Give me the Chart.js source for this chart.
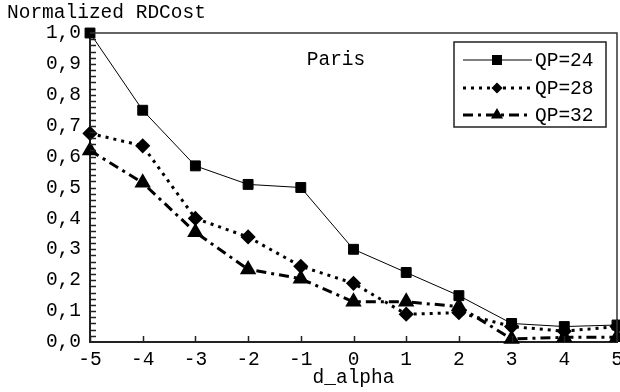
<!DOCTYPE html>
<html>
<head>
<meta charset="utf-8">
<script src="https://cdn.jsdelivr.net/npm/chart.js@4.4.1/dist/chart.umd.min.js"></script>
<style>
  html, body { margin: 0; padding: 0; background: #fff; }
  #wrap { width: 620px; height: 392px; }
</style>
</head>
<body>
<div id="wrap"><canvas id="chart" width="620" height="392"></canvas></div>
<script>
// values
const dAlpha = [-5, -4, -3, -2, -1, 0, 1, 2, 3, 4, 5];
const qp24 = [1.0, 0.75, 0.57, 0.51, 0.50, 0.30, 0.225, 0.15, 0.06, 0.05, 0.055];
const qp28 = [0.675, 0.635, 0.40, 0.34, 0.245, 0.19, 0.09, 0.095, 0.05, 0.035, 0.05];
const qp32 = [0.62, 0.515, 0.355, 0.235, 0.205, 0.13, 0.13, 0.115, 0.01, 0.015, 0.015];
const seriesNames = ["QP=24", "QP=28", "QP=32"];

const FONT = "'Liberation Mono', 'Courier New', monospace";
const FS = 19.5;

function pts(ys) {
  return dAlpha.map((x, i) => ({ x: x, y: ys[i] }));
}

// frame, inner tick marks, free texts and the legend box
const extras = {
  id: "extras",
  afterDraw(chart) {
    const ctx = chart.ctx;
    const a = chart.chartArea;
    const xs = chart.scales.x;
    const ys = chart.scales.y;
    ctx.save();

    // top + right frame
    ctx.strokeStyle = "#333";
    ctx.lineWidth = 1.5;
    ctx.beginPath();
    ctx.moveTo(a.left, a.top);
    ctx.lineTo(a.right, a.top);
    ctx.lineTo(a.right, a.bottom);
    ctx.stroke();

    // inner ticks
    ctx.strokeStyle = "#222";
    ctx.lineWidth = 1.5;
    ctx.beginPath();
    for (let i = 1; i < 50; i++) {
      const py = Math.round(ys.getPixelForValue(i * 0.02)) + 0.5;
      ctx.moveTo(a.left, py);
      ctx.lineTo(a.left + 6, py);
    }
    dAlpha.forEach(v => {
      const px = Math.round(xs.getPixelForValue(v)) + 0.5;
      ctx.moveTo(px, a.bottom);
      ctx.lineTo(px, a.bottom - 6);
    });
    ctx.stroke();

    ctx.fillStyle = "#000";
    ctx.font = FS + "px " + FONT;
    ctx.textBaseline = "middle";
    ctx.textAlign = "left";
    ctx.fillText("Normalized RDCost", 7, 13);
    ctx.textAlign = "center";
    ctx.fillText("Paris", 336, 60);

    // legend
    const bx = 454, by = 42, bw = 152, bh = 85;
    ctx.fillStyle = "#fff";
    ctx.fillRect(bx, by, bw, bh);
    ctx.strokeStyle = "#222";
    ctx.lineWidth = 1.5;
    ctx.strokeRect(bx, by, bw, bh);
    const rows = [60, 88, 115];
    chart.data.datasets.forEach((ds, i) => {
      const y = rows[i];
      ctx.save();
      ctx.strokeStyle = ds.borderColor;
      ctx.lineWidth = ds.borderWidth;
      ctx.setLineDash(ds.borderDash || []);
      ctx.beginPath();
      ctx.moveTo(463, y);
      ctx.lineTo(532, y);
      ctx.stroke();
      ctx.restore();
      ctx.fillStyle = "#000";
      ctx.strokeStyle = "#000";
      Chart.helpers.drawPoint(ctx, {
        pointStyle: ds.pointStyle,
        radius: ds.pointRadius - 1,
        rotation: 0,
        borderWidth: 1
      }, 497, y);
      ctx.fillStyle = "#000";
      ctx.font = FS + "px " + FONT;
      ctx.textAlign = "left";
      ctx.textBaseline = "middle";
      ctx.fillText(ds.label, 535, y + 1);
    });
    ctx.restore();
  }
};

const ctx = document.getElementById("chart").getContext("2d");
const myChart = new Chart(ctx, {
  type: "line",
  data: {
    datasets: [
      {
        label: seriesNames[0],
        data: pts(qp24),
        borderColor: "#000",
        backgroundColor: "#000",
        borderWidth: 1,
        pointStyle: "rect",
        pointRadius: 7,
        clip: false
      },
      {
        label: seriesNames[1],
        data: pts(qp28),
        borderColor: "#000",
        backgroundColor: "#000",
        borderWidth: 3,
        borderDash: [3, 5],
        pointStyle: "rectRot",
        pointRadius: 5.5,
        clip: false
      },
      {
        label: seriesNames[2],
        data: pts(qp32),
        borderColor: "#000",
        backgroundColor: "#000",
        borderWidth: 3,
        borderDash: [10, 5, 3, 5],
        pointStyle: "triangle",
        pointRadius: 6.5,
        clip: false
      }
    ]
  },
  options: {
    responsive: false,
    animation: false,
    layout: { autoPadding: false, padding: { top: 33, right: 3, left: 0, bottom: 0 } },
    plugins: {
      legend: { display: false },
      tooltip: { enabled: false }
    },
    elements: { line: { tension: 0 }, point: { borderWidth: 1 } },
    scales: {
      x: {
        type: "linear",
        min: -5,
        max: 5,
        grid: { display: false, drawTicks: false },
        border: { display: true, color: "#222", width: 2 },
        ticks: {
          stepSize: 1,
          color: "#000",
          padding: 6,
          font: { family: FONT, size: FS },
          maxRotation: 0,
          callback: v => String(v)
        },
        title: {
          display: true,
          text: "d_alpha",
          color: "#000",
          font: { family: FONT, size: FS },
          padding: { top: 0, bottom: 2 }
        },
        afterFit(s) {
          s.height = 50;
          s.paddingLeft = 0;
          s.paddingRight = 0;
        }
      },
      y: {
        min: 0,
        max: 1,
        grid: { display: false, drawTicks: false },
        border: { display: true, color: "#222", width: 2 },
        ticks: {
          stepSize: 0.1,
          color: "#000",
          padding: 9,
          font: { family: FONT, size: FS },
          callback: v => v.toFixed(1).replace(".", ",")
        },
        afterFit(s) {
          s.width = 90;
          s.paddingTop = 0;
          s.paddingBottom = 0;
        }
      }
    }
  },
  plugins: [extras]
});
</script>
</body>
</html>
